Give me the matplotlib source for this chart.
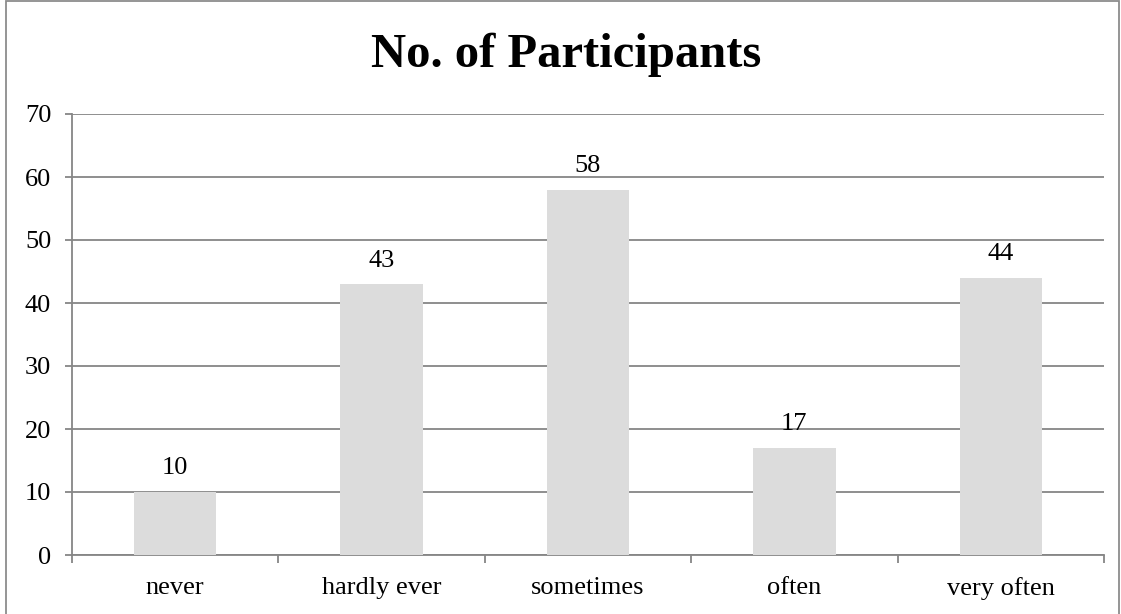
import matplotlib
matplotlib.use("Agg")
import matplotlib.pyplot as plt
from matplotlib.patches import Rectangle

categories = ["never", "hardly ever", "sometimes", "often", "very often"]
values = [10, 43, 58, 17, 44]
title = "No. of Participants"
yticks = [0, 10, 20, 30, 40, 50, 60, 70]

plt.rcParams['font.family'] = ['Liberation Serif', 'DejaVu Serif']

W, H = 1121, 614
fig = plt.figure(figsize=(W/100, H/100), dpi=100)
ax = fig.add_axes([72/W, 1-555/H, (1104-72)/W, (555-114)/H])

grid_c = "#868686"
fs = 19
x = list(range(len(categories)))
ax.bar(x, values, width=0.4, color="#dcdcdc", zorder=3)
ax.set_xlim(-0.5, len(categories)-0.5)
ax.set_ylim(0, 70)
ax.set_yticks(yticks)
ax.set_yticklabels([str(t) for t in yticks], fontsize=fs)
ax.yaxis.grid(True, color=grid_c, linewidth=1.3, zorder=0)
ax.set_xticks(x)
ax.set_xticklabels(categories, fontsize=fs)
ax.tick_params(axis='x', length=0, pad=16)
ax.set_xticks([i - 0.5 for i in range(len(categories)+1)], minor=True)
ax.tick_params(axis='x', which='minor', length=5.5, color=grid_c, width=1.3)
ax.tick_params(axis='y', length=5, color=grid_c, width=1.3, pad=10)
for s in ['top', 'right']:
    ax.spines[s].set_visible(False)
for s in ['left', 'bottom']:
    ax.spines[s].set_color(grid_c)
    ax.spines[s].set_linewidth(1.3)

for xi, v in zip(x, values):
    ax.annotate(str(v), (xi, v), xytext=(0, 9), textcoords='offset points',
                ha='center', va='bottom', fontsize=fs)

fig.text(0.505, 1-55/H, title, ha='center', va='center', fontsize=35, fontweight='bold')

fig.patches.append(Rectangle((6/W, -0.05), (1119-6)/W, 1.05 - 1/H, transform=fig.transFigure,
                             fill=False, edgecolor="#8c8c8c", linewidth=1.3))

fig.savefig("out.png", dpi=100)
